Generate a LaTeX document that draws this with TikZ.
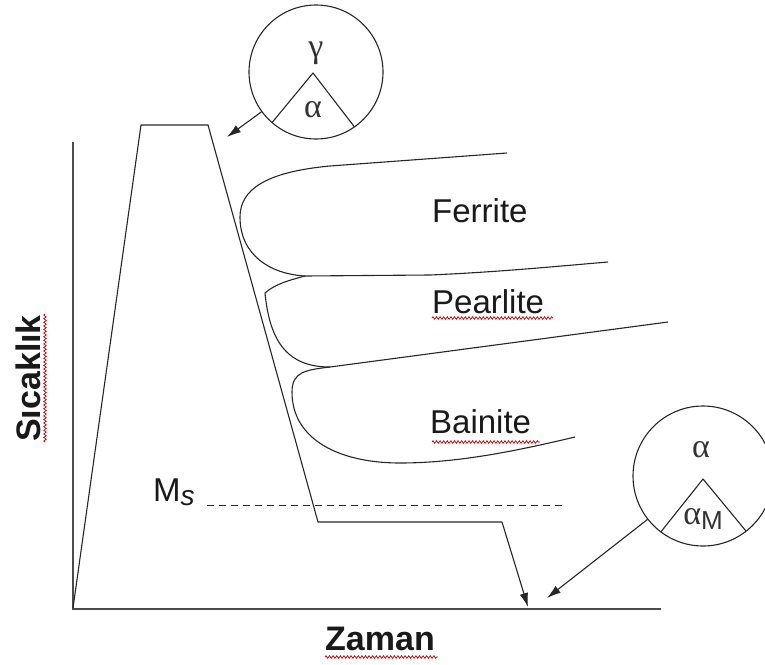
\documentclass[tikz,border=0pt]{standalone}
\usepackage{fontspec}
\setmainfont{Liberation Sans}
\newfontfamily\grkfont{Liberation Serif}
\usetikzlibrary{arrows.meta,decorations.pathmorphing}
\begin{document}
\begin{tikzpicture}[x=1pt,y=-1pt,
  ln/.style={line width=1.1pt, draw=black!85, line join=round},
  axisln/.style={line width=1.6pt, draw=black!70},
  ring/.style={draw=black!85, line width=1.1pt, circle, inner sep=0pt, outer sep=0pt},
  tip/.style={-{Latex[length=14pt,width=8.5pt]}},
  lbl/.style={inner sep=0pt, font=\fontsize{33}{36}\selectfont, text=black!90},
  bigl/.style={inner sep=0pt, font=\fontsize{34}{36}\selectfont\bfseries, text=black!90},
  grk/.style={inner sep=0pt, font=\fontsize{34}{36}\selectfont\grkfont, text=black!80},
  squig/.style={draw=red!75!black, line width=0.7pt, decorate,
    decoration={zigzag, amplitude=1.3pt, segment length=3.6pt}}
]
\useasboundingbox (0,0) rectangle (765,664);

% axes
\coordinate (o) at (73,609);
\coordinate (ytop) at (73,142);
\coordinate (xend) at (661,609);
\draw[axisln] (ytop) -- (o) -- (xend);

% axis labels
\node[bigl, rotate=90, anchor=base west] (ylab) at (40,442) {Sıcaklık};
\node[bigl, anchor=base west] (xlab) at (325,650) {Zaman};
\draw[squig] (45,442) -- (45,314);
\draw[squig] (325,657) -- (438,657);

% cooling path
\coordinate (p0) at (73,608);
\coordinate (p1) at (141,125);
\coordinate (p2) at (208,125);
\coordinate (p3) at (318,522);
\coordinate (p4) at (502,522);
\coordinate (p5) at (528,607);
\draw[ln] (p0) -- (p1) -- (p2) -- (p3) -- (p4);
\draw[ln, tip] (p4) -- (p5);

% Ms line
\coordinate (ms1) at (207,505);
\coordinate (ms2) at (563,505);
\draw[line width=1pt, draw=black!85, dash pattern=on 7pt off 5pt] (ms1) -- (ms2);
\node[lbl, anchor=base west] (ms) at (153,501) {M\raisebox{-4pt}{\fontsize{28}{30}\selectfont\itshape s}};

% transformation curves
\coordinate (fa) at (507,153);
\coordinate (fb) at (330,166);
\coordinate (fn) at (240,217);
\coordinate (k1) at (305,276);
\coordinate (k2) at (330,367);
\coordinate (e1) at (608,262);
\coordinate (e2) at (668,322);
\coordinate (e3) at (575,437);
\draw[ln] (fa) -- (fb) .. controls (265,172) and (240,190) .. (fn)
  .. controls (240,255) and (270,274) .. (k1);
\draw[ln] (k1) -- (430,275) .. controls (500,272) and (560,266) .. (e1);
\draw[ln] (k1) .. controls (290,280) and (275,284) .. (265,293)
  .. controls (270,345) and (290,367) .. (k2);
\draw[ln] (k2) -- (e2);
\draw[ln] (k2) .. controls (305,370) and (292,372) .. (292,392)
  .. controls (292,440) and (340,463) .. (400,463)
  .. controls (460,463) and (520,450) .. (e3);

% phase labels
\node[lbl, anchor=base west] (fer) at (432,222) {Ferrite};
\node[lbl, anchor=base west] (pea) at (432,313) {Pearlite};
\node[lbl, anchor=base west] (bai) at (430,433) {Bainite};
\draw[squig] (432,318) -- (553,318);
\draw[squig] (432,442) -- (540,442);

% left circle (austenite)
\node[ring, minimum size=134pt] (c1) at (316,72) {};
\coordinate (a1) at (313,73);
\draw[ln] (c1.229) -- (a1) -- (c1.305);
\node[grk] (g1) at (316,53) {γ};
\node[grk] (al1) at (313,110) {α};
\coordinate (t1) at (227,137);
\draw[ln, tip] (c1) -- (t1);

% right circle (martensite)
\node[ring, minimum size=140pt] (c2) at (703,476) {};
\coordinate (a2) at (703,479);
\draw[ln] (c2.233) -- (a2) -- (c2.308);
\node[grk] (al2) at (701,450) {α};
\node[grk] (al3) at (703,519) {α\raisebox{-5pt}{\rmfamily\fontsize{26}{28}\selectfont M}};
\coordinate (t2) at (547,598);
\draw[ln, tip] (c2) -- (t2);
\end{tikzpicture}
\end{document}
